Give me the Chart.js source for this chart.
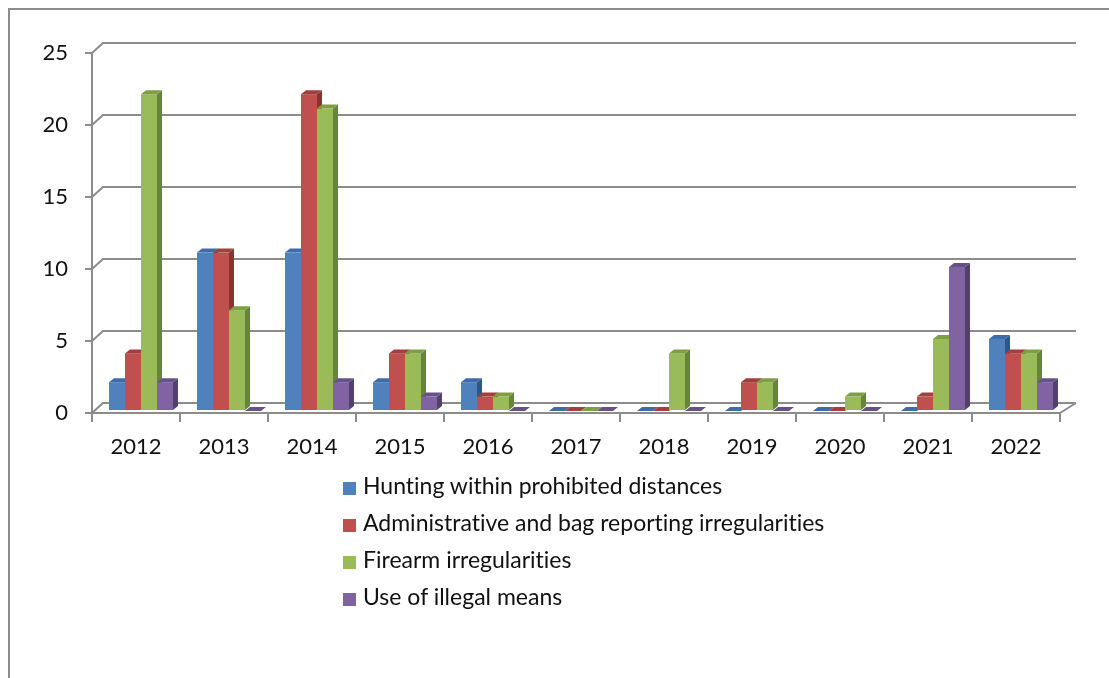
<!DOCTYPE html>
<html>
<head>
<meta charset="utf-8">
<script src="https://cdn.jsdelivr.net/npm/chart.js@4"></script>
<style>
  html, body { margin: 0; padding: 0; background: #fff; overflow: hidden; }
  #wrap { position: relative; width: 1109px; height: 678px; }
  #frame { position: absolute; left: 8px; top: 8px; width: 1200px; height: 800px; border: 2px solid #8c8c8c; }
  #myChart { position: absolute; left: 0; top: 0; }
  #legend { position: absolute; left: 343px; top: 467px; font-family: Lato, sans-serif; font-size: 23px; color: #111; font-variant-ligatures: none; }
  #legend div { height: 37px; line-height: 37px; white-space: nowrap; }
  #legend span { display: inline-block; width: 13px; height: 13px; margin-right: 7px; vertical-align: -1px; }
</style>
</head>
<body>
<div id="wrap">
  <div id="frame"></div>
  <canvas id="myChart" width="1109" height="678"></canvas>
  <div id="legend"></div>
</div>
<script>
const years = ['2012', '2013', '2014', '2015', '2016', '2017', '2018', '2019', '2020', '2021', '2022'];

const huntingDistances = [2, 11, 11, 2, 2, 0, 0, 0, 0, 0, 5];
const adminReporting  = [4, 11, 22, 4, 1, 0, 0, 2, 0, 1, 4];
const firearmIssues   = [22, 7, 21, 4, 1, 0, 4, 2, 1, 5, 4];
const illegalMeans    = [2, 0, 2, 1, 0, 0, 0, 0, 0, 10, 2];

const seriesNames = [
  'Hunting within prohibited distances',
  'Administrative and bag reporting irregularities',
  'Firearm irregularities',
  'Use of illegal means'
];
const frontColors = ['#4f81bd', '#c0504d', '#9bbb59', '#8064a2'];
const topColors   = ['#3d6ca6', '#a33f3c', '#7f9f45', '#67518a'];
const sideColors  = ['#2f5688', '#8a3331', '#66843a', '#52406f'];

const GRID = '#8c8c8c';
const FONT = { family: 'Lato', size: 22 };

// fake 3D: back wall grid + extruded columns
const columns3d = {
  id: 'columns3d',
  beforeDatasetsDraw(chart) {
    const ctx = chart.ctx;
    const area = chart.chartArea;
    const yScale = chart.scales.y;

    // back wall lines, slanted off the front axis
    ctx.save();
    ctx.strokeStyle = GRID;
    ctx.lineWidth = 2;
    yScale.ticks.forEach(t => {
      const py = yScale.getPixelForValue(t.value);
      ctx.beginPath();
      ctx.moveTo(area.left, py);
      ctx.lineTo(area.left + 11, py - 10);
      ctx.lineTo(area.right + 16, py - 10);
      ctx.stroke();
    });
    // floor right edge
    const p0 = yScale.getPixelForValue(0);
    ctx.beginPath();
    ctx.moveTo(area.right + 16, p0 - 10);
    ctx.lineTo(area.right, p0);
    ctx.stroke();
    ctx.restore();

    // columns, left to right so each front face hides the neighbour's side
    const dx = 5, dy = 4;
    ctx.save();
    ctx.translate(5, -2);
    for (let i = 0; i < years.length; i++) {
      chart.data.datasets.forEach((ds, d) => {
        const bar = chart.getDatasetMeta(d).data[i];
        const { x, y, base, width } = bar.getProps(['x', 'y', 'base', 'width'], true);
        const l = x - width / 2, r = x + width / 2;

        ctx.fillStyle = frontColors[d];
        ctx.fillRect(l, y, width, base - y);

        ctx.fillStyle = sideColors[d];
        ctx.beginPath();
        ctx.moveTo(r, y);
        ctx.lineTo(r + dx, y - dy);
        ctx.lineTo(r + dx, base - dy);
        ctx.lineTo(r, base);
        ctx.closePath();
        ctx.fill();

        ctx.fillStyle = topColors[d];
        ctx.beginPath();
        ctx.moveTo(l, y);
        ctx.lineTo(l + dx, y - dy);
        ctx.lineTo(r + dx, y - dy);
        ctx.lineTo(r, y);
        ctx.closePath();
        ctx.fill();
      });
    }
    ctx.restore();
    return false;
  }
};

function buildLegend() {
  const box = document.getElementById('legend');
  seriesNames.forEach((name, i) => {
    const row = document.createElement('div');
    const sw = document.createElement('span');
    sw.style.background = frontColors[i];
    row.appendChild(sw);
    row.appendChild(document.createTextNode(name));
    box.appendChild(row);
  });
}

function drawChart() {
  const ctx = document.getElementById('myChart');
  new Chart(ctx, {
    type: 'bar',
    data: {
      labels: years,
      datasets: [
        { label: seriesNames[0], data: huntingDistances, backgroundColor: frontColors[0] },
        { label: seriesNames[1], data: adminReporting, backgroundColor: frontColors[1] },
        { label: seriesNames[2], data: firearmIssues, backgroundColor: frontColors[2] },
        { label: seriesNames[3], data: illegalMeans, backgroundColor: frontColors[3] }
      ]
    },
    options: {
      responsive: false,
      animation: false,
      devicePixelRatio: 1,
      categoryPercentage: 0.727,
      barPercentage: 1.0,
      layout: { padding: { left: 20, right: 49, top: 53, bottom: 205 } },
      plugins: {
        legend: { display: false },
        tooltip: { enabled: false }
      },
      scales: {
        x: {
          ticks: { padding: 12, color: '#111', font: FONT },
          grid: { drawOnChartArea: false, tickLength: 9, color: GRID, lineWidth: 2, offset: true },
          border: { color: GRID, width: 2 },
          afterFit(s) { s.height = 60; }
        },
        y: {
          min: 0,
          max: 25,
          ticks: { stepSize: 5, padding: 17, color: '#111', font: FONT },
          grid: { drawOnChartArea: false, tickLength: 7, color: GRID, lineWidth: 2 },
          border: { color: GRID, width: 2 },
          afterFit(s) { s.width = 72; }
        }
      }
    },
    plugins: [columns3d]
  });
}

buildLegend();
document.fonts.load('22px Lato').then(drawChart, drawChart);
</script>
</body>
</html>
